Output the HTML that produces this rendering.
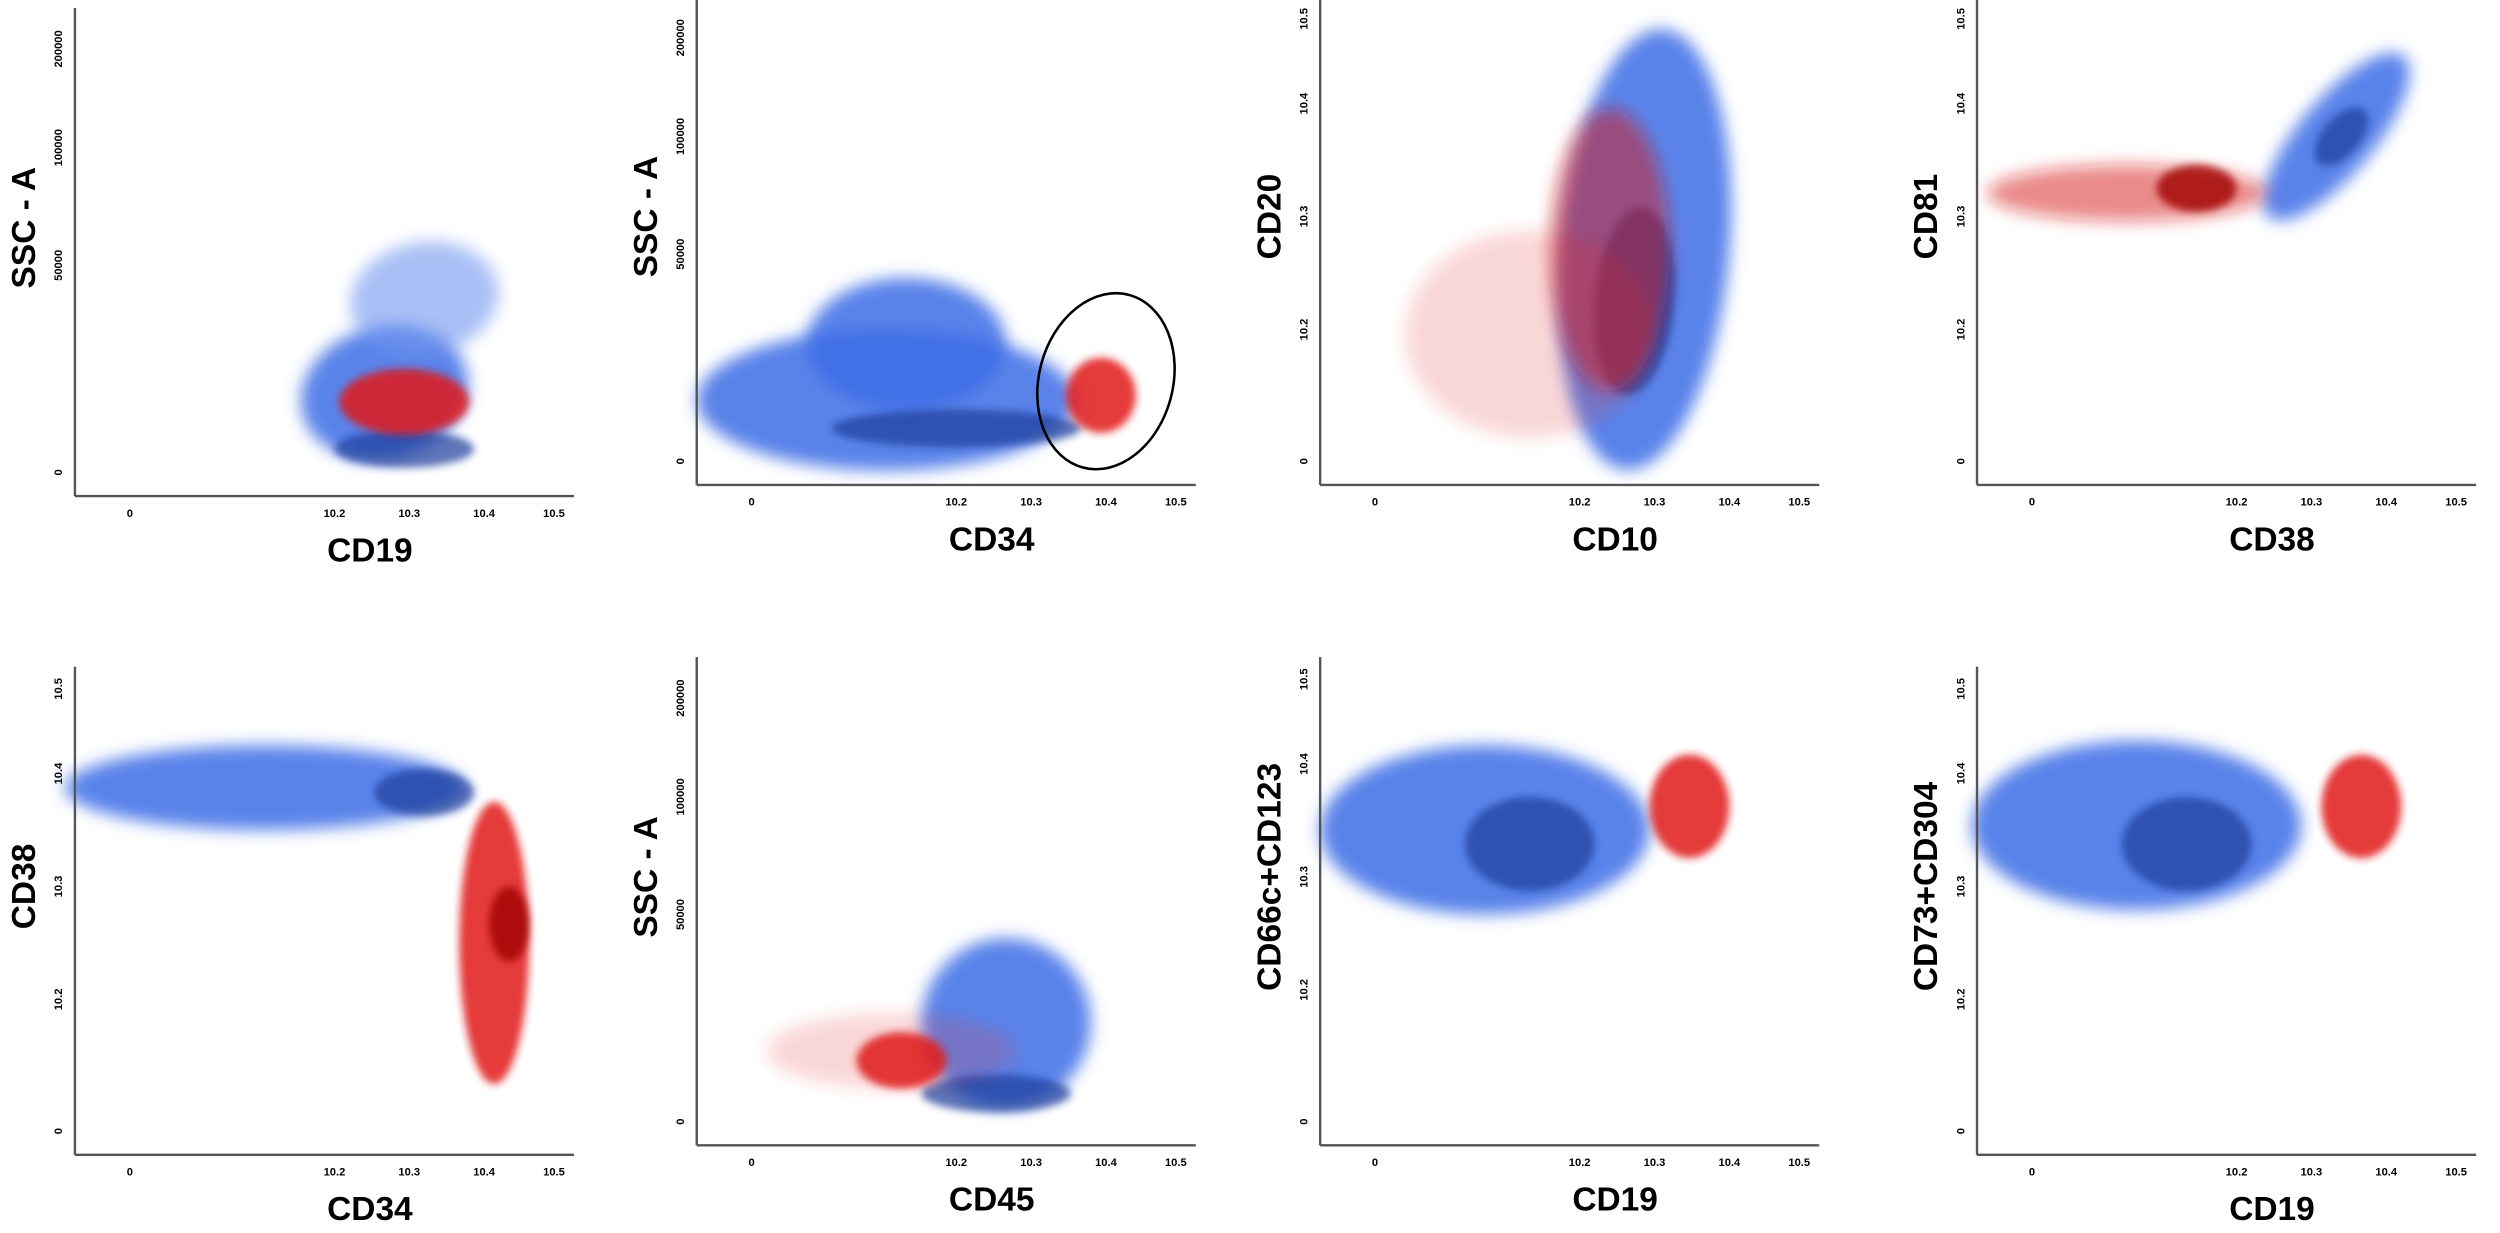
<!DOCTYPE html>
<html><head><meta charset="utf-8"><style>
html,body{margin:0;padding:0;background:#fff;}
svg{display:block;}
text{font-family:"Liberation Sans",sans-serif;font-weight:bold;fill:#000;}
</style></head><body>
<svg id="fig" width="2500" height="1233" viewBox="0 0 1568 773" preserveAspectRatio="none" xmlns="http://www.w3.org/2000/svg">
<defs>
<filter id="b1" x="-50%" y="-50%" width="200%" height="200%"><feGaussianBlur stdDeviation="5"/></filter>
<filter id="b2" x="-50%" y="-50%" width="200%" height="200%"><feGaussianBlur stdDeviation="2.5"/></filter>
</defs>
</svg>
<script>
// panel axis origins (display units) and labels
const panelX0 = [47, 437, 828, 1240, 47, 437, 828, 1240];
const panelY0 = [305, 298, 298, 298, 718, 712, 712, 718];
const xLabels = ["CD19","CD34","CD10","CD38","CD34","CD45","CD19","CD19"];
const yLabels = ["SSC - A","SSC - A","CD20","CD81","CD38","SSC - A","CD66c+CD123","CD73+CD304"];
const xTickLabels = ["0","10.2","10.3","10.4","10.5"];
const xTickVals = [11, 52, 67, 82, 96];
const sscTickLabels = ["0","50000","100000","200000"];
const sscTickVals = [3, 47, 72, 93];
const logTickLabels = ["0","10.2","10.3","10.4","10.5"];
const logTickVals = [3, 31, 55, 79, 97];
// clusters: panel, ux, uy, rx, ry, rotation, kind
const clPanel = [0,0,0,0, 1,1,1,1, 2,2,2,2, 3,3,3,3, 4,4,4,4, 5,5,5,5, 6,6,6, 7,7,7];
const clX  = [62,70,66,66, 38,42,52,81, 65,63,42,58, 72,73,30,44, 38,70,84,87, 62,60,39,41, 33,42,74, 32,42,77];
const clY  = [20,40,8,18, 16,28,10,17, 48,37,30,48, 72,72,60,61, 76,75,43,47, 24,9,18,16, 65,62,70, 68,64,72];
const clRX = [17,15,14,13, 38,20,25,7, 17,8,25,12, 21,7,28,8, 40,10,7,4, 17,15,25,9, 33,13,8, 33,13,8];
const clRY = [14,12,4,7, 15,14,4,8, 47,20,22,30, 8,4,6,5, 9,5,30,8, 18,4,8,6, 18,10,11, 18,10,11];
const clRot= [-15,-10,0,0, 0,0,0,0, 5,5,0,0, -50,-50,0,0, 0,0,0,0, -20,0,0,0, 0,0,0, 0,0,0];
const clKind=["blue","bluelight","dark","red", "blue","blue","dark","red", "blue","dark","redlight","redmid", "blue","dark","redmid","reddark", "blue","dark","red","reddark", "blue","dark","redlight","red", "blue","dark","red", "blue","dark","red"];
const PW = 313, PH = 295;
const svg = document.getElementById('fig');
const NS = 'http://www.w3.org/2000/svg';
function sx(p, u){ return panelX0[p] + u/100*PW; }
function sy(p, v){ return panelY0[p] - v/100*PH; }
function mk(tag, attrs){ const e=document.createElementNS(NS,tag); for(const k in attrs) e.setAttribute(k,attrs[k]); svg.appendChild(e); return e; }
const styles = {
  blue:{fill:'#3c6de6',op:0.85,f:'b1'}, bluelight:{fill:'#6f95ee',op:0.6,f:'b1'}, dark:{fill:'#1a3a9a',op:0.7,f:'b2'},
  red:{fill:'#e01818',op:0.85,f:'b2'}, reddark:{fill:'#a00808',op:0.8,f:'b2'},
  redmid:{fill:'#d81a1a',op:0.5,f:'b1'}, redlight:{fill:'#e83030',op:0.2,f:'b1'}
};
for(let i=0;i<clPanel.length;i++){
  const p=clPanel[i], s=styles[clKind[i]];
  const cx=sx(p,clX[i]), cy=sy(p,clY[i]);
  const e=mk('ellipse',{cx:cx,cy:cy,rx:clRX[i]/100*PW,ry:clRY[i]/100*PH,fill:s.fill,'fill-opacity':s.op,filter:'url(#'+s.f+')',transform:'rotate('+clRot[i]+' '+cx+' '+cy+')'});
  
  
}
// gate in panel 2
const gcx=sx(1,82), gcy=sy(1,20);
const gate=mk('ellipse',{cx:gcx,cy:gcy,rx:42,ry:56,fill:'none',stroke:'#000','stroke-width':1.6,transform:'rotate(15 '+gcx+' '+gcy+')'});


for(let p=0;p<8;p++){
  const x0=panelX0[p], y0=panelY0[p];
  const ya=mk('line',{x1:x0,y1:y0+6,x2:x0,y2:y0-PH-5,stroke:'#555','stroke-width':1.5});
  
  
  const xa=mk('line',{x1:x0,y1:y0+6,x2:x0+PW,y2:y0+6,stroke:'#555','stroke-width':1.5});
  
  
  for(let t=0;t<xTickVals.length;t++){
    const tx=mk('text',{x:sx(p,xTickVals[t]),y:y0+19,'font-size':7,'text-anchor':'middle'});
    tx.textContent=xTickLabels[t];
    
    
  }
  const ssc = (p===0||p===1||p===5);
  const tv = ssc?sscTickVals:logTickVals, tl = ssc?sscTickLabels:logTickLabels;
  for(let t=0;t<tv.length;t++){
    const yy=sy(p,tv[t]);
    const ty=mk('text',{x:x0-8,y:yy,'font-size':7,'text-anchor':'middle',transform:'rotate(-90 '+(x0-8)+' '+yy+')'});
    ty.textContent=tl[t];
    
    
  }
  const xl=mk('text',{x:x0+185,y:y0+47,'font-size':21,'text-anchor':'middle'});
  xl.textContent=xLabels[p];
  
  
  const lx=x0-25, ly=y0-PH*0.55;
  const yl=mk('text',{x:lx,y:ly,'font-size':21,'text-anchor':'middle',transform:'rotate(-90 '+lx+' '+ly+')'});
  yl.textContent=yLabels[p];
  
  
}
</script>
</body></html>
